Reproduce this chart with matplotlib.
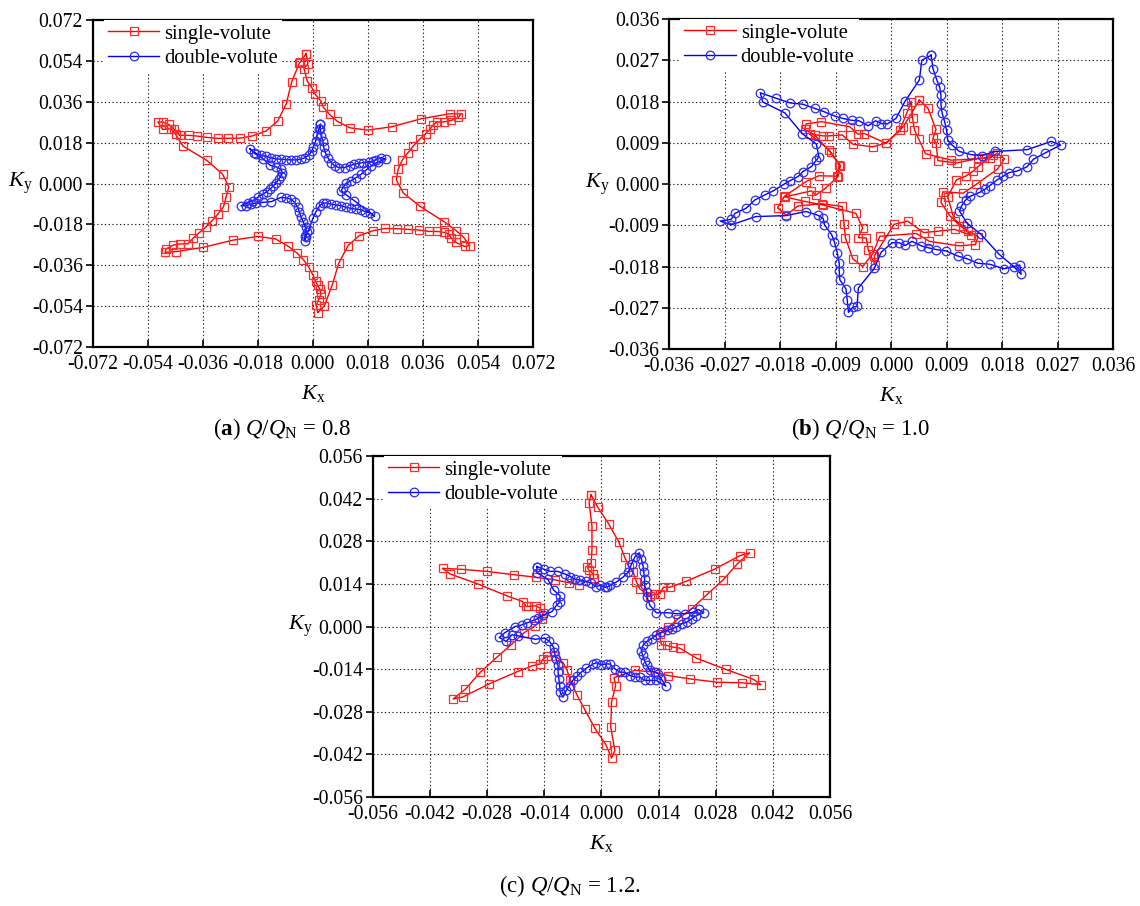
import numpy as np
import matplotlib
matplotlib.use("Agg")
import matplotlib.pyplot as plt

plt.rcParams["font.family"] = ["Liberation Serif", "DejaVu Serif"]
plt.rcParams["mathtext.fontset"] = "custom"
plt.rcParams["mathtext.rm"] = "Liberation Serif"
plt.rcParams["mathtext.it"] = "Liberation Serif:italic"
plt.rcParams["mathtext.bf"] = "Liberation Serif:bold"
plt.rcParams["axes.unicode_minus"] = False

W, H = 1140, 906

# ── (a) Q/QN = 0.8 : (Kx, Ky) ──────────────────────────────────────────────────
a_single = [
    (-0.0022, 0.0572), (-0.0016, 0.0528), (-0.0029, 0.0506), (-0.0018, 0.0450), (-0.0003, 0.0422),
    (0.0006, 0.0396), (0.0027, 0.0362), (0.0033, 0.0338), (0.0055, 0.0304), (0.0080, 0.0274),
    (0.0122, 0.0245), (0.0180, 0.0235), (0.0258, 0.0250), (0.0354, 0.0285), (0.0447, 0.0307),
    (0.0485, 0.0307), (0.0476, 0.0291), (0.0453, 0.0278), (0.0428, 0.0271), (0.0406, 0.0271),
    (0.0393, 0.0257), (0.0384, 0.0241), (0.0369, 0.0219), (0.0349, 0.0195), (0.0329, 0.0166),
    (0.0311, 0.0136), (0.0292, 0.0102), (0.0279, 0.0063), (0.0273, 0.0015), (0.0296, -0.0042),
    (0.0351, -0.0101), (0.0429, -0.0168), (0.0469, -0.0208), (0.0493, -0.0237), (0.0513, -0.0274),
    (0.0496, -0.0277), (0.0467, -0.0259), (0.0453, -0.0241), (0.0445, -0.0222), (0.0428, -0.0215),
    (0.0406, -0.0211), (0.0379, -0.0211), (0.0347, -0.0205), (0.0311, -0.0202), (0.0276, -0.0199),
    (0.0237, -0.0198), (0.0196, -0.0208), (0.0151, -0.0230), (0.0115, -0.0274), (0.0085, -0.0350),
    (0.0063, -0.0448), (0.0038, -0.0538), (0.0016, -0.0569), (0.0011, -0.0537), (0.0019, -0.0511),
    (0.0027, -0.0486), (0.0022, -0.0464), (0.0016, -0.0449), (0.0009, -0.0430), (0.0000, -0.0402),
    (-0.0013, -0.0369), (-0.0031, -0.0335), (-0.0052, -0.0306), (-0.0080, -0.0277), (-0.0122, -0.0244),
    (-0.0179, -0.0233), (-0.0260, -0.0249), (-0.0358, -0.0281), (-0.0447, -0.0300), (-0.0483, -0.0303),
    (-0.0480, -0.0288), (-0.0456, -0.0271), (-0.0433, -0.0266), (-0.0409, -0.0266), (-0.0391, -0.0240),
    (-0.0373, -0.0218), (-0.0351, -0.0193), (-0.0330, -0.0164), (-0.0311, -0.0136), (-0.0292, -0.0102),
    (-0.0284, -0.0061), (-0.0275, -0.0015), (-0.0295, 0.0041), (-0.0347, 0.0102), (-0.0425, 0.0165),
    (-0.0449, 0.0217), (-0.0464, 0.0241), (-0.0491, 0.0238), (-0.0507, 0.0271), (-0.0491, 0.0271),
    (-0.0471, 0.0260), (-0.0453, 0.0238), (-0.0436, 0.0212), (-0.0406, 0.0212), (-0.0379, 0.0209),
    (-0.0347, 0.0203), (-0.0311, 0.0199), (-0.0278, 0.0199), (-0.0238, 0.0200), (-0.0199, 0.0209),
    (-0.0153, 0.0231), (-0.0115, 0.0275), (-0.0087, 0.0351), (-0.0069, 0.0448), (-0.0044, 0.0531),
    (-0.0041, 0.0535), (-0.0022, 0.0572),
]
a_double = [
    (0.0025, 0.0260), (0.0024, 0.0240), (0.0027, 0.0209), (0.0033, 0.0187), (0.0035, 0.0162),
    (0.0041, 0.0136), (0.0049, 0.0114), (0.0060, 0.0092), (0.0071, 0.0078), (0.0085, 0.0070),
    (0.0104, 0.0070), (0.0120, 0.0078), (0.0136, 0.0085), (0.0150, 0.0089), (0.0164, 0.0092),
    (0.0185, 0.0094), (0.0197, 0.0100), (0.0207, 0.0104), (0.0224, 0.0114), (0.0238, 0.0107),
    (0.0213, 0.0095), (0.0191, 0.0078), (0.0175, 0.0060), (0.0158, 0.0041), (0.0142, 0.0026),
    (0.0125, 0.0012), (0.0109, 0.0001), (0.0098, -0.0018), (0.0093, -0.0032), (0.0109, -0.0050),
    (0.0136, -0.0076), (0.0202, -0.0145), (0.0188, -0.0130), (0.0172, -0.0124), (0.0158, -0.0116),
    (0.0142, -0.0113), (0.0125, -0.0110), (0.0109, -0.0105), (0.0093, -0.0098), (0.0076, -0.0095),
    (0.0060, -0.0091), (0.0044, -0.0086), (0.0033, -0.0086), (0.0022, -0.0098), (0.0009, -0.0127),
    (0.0000, -0.0154), (-0.0013, -0.0203), (-0.0027, -0.0230), (-0.0027, -0.0252), (-0.0022, -0.0237),
    (-0.0020, -0.0215), (-0.0024, -0.0193), (-0.0031, -0.0171), (-0.0038, -0.0149), (-0.0044, -0.0127),
    (-0.0049, -0.0105), (-0.0060, -0.0083), (-0.0071, -0.0069), (-0.0087, -0.0064), (-0.0104, -0.0061),
    (-0.0136, -0.0080), (-0.0164, -0.0083), (-0.0185, -0.0086), (-0.0202, -0.0091), (-0.0218, -0.0098),
    (-0.0235, -0.0098), (-0.0213, -0.0086), (-0.0196, -0.0076), (-0.0180, -0.0061), (-0.0164, -0.0047),
    (-0.0151, -0.0037), (-0.0140, -0.0025), (-0.0129, -0.0010), (-0.0120, 0.0004), (-0.0111, 0.0019),
    (-0.0104, 0.0034), (-0.0100, 0.0048), (-0.0104, 0.0063), (-0.0120, 0.0073), (-0.0139, 0.0080),
    (-0.0164, 0.0110), (-0.0191, 0.0133), (-0.0207, 0.0154), (-0.0185, 0.0132), (-0.0169, 0.0124),
    (-0.0153, 0.0119), (-0.0136, 0.0113), (-0.0120, 0.0108), (-0.0104, 0.0107), (-0.0087, 0.0105),
    (-0.0071, 0.0104), (-0.0055, 0.0104), (-0.0040, 0.0107), (-0.0027, 0.0113), (-0.0014, 0.0124),
    (-0.0004, 0.0142), (0.0002, 0.0162), (0.0009, 0.0187), (0.0013, 0.0212), (0.0019, 0.0238),
    (0.0025, 0.0260),
]

# ── (b) Q/QN = 1.0 ────────────────────────────────────────────────────────────
b_single = [
    (0.0046, 0.0183), (0.0060, 0.0165), (0.0073, 0.0119), (0.0068, 0.0100), (0.0073, 0.0090),
    (0.0076, 0.0051), (0.0107, 0.0046), (0.0141, 0.0056), (0.0160, 0.0056), (0.0172, 0.0067),
    (0.0184, 0.0055), (0.0173, 0.0033), (0.0138, -0.0001), (0.0117, -0.0020), (0.0084, -0.0017),
    (0.0081, -0.0040), (0.0095, -0.0069), (0.0117, -0.0092), (0.0125, -0.0103), (0.0141, -0.0115),
    (0.0137, -0.0132), (0.0111, -0.0135), (0.0062, -0.0125), (0.0041, -0.0108), (-0.0018, -0.0114),
    (-0.0030, -0.0153), (-0.0046, -0.0180), (-0.0062, -0.0163), (-0.0074, -0.0117), (-0.0076, -0.0088),
    (-0.0079, -0.0049), (-0.0112, -0.0043), (-0.0151, -0.0048), (-0.0170, -0.0068), (-0.0184, -0.0052),
    (-0.0173, -0.0027), (-0.0138, 0.0005), (-0.0117, 0.0018), (-0.0087, 0.0017), (-0.0084, 0.0042),
    (-0.0098, 0.0069), (-0.0124, 0.0107), (-0.0140, 0.0119), (-0.0138, 0.0131), (-0.0113, 0.0136),
    (-0.0067, 0.0125), (-0.0054, 0.0109), (-0.0043, 0.0110), (-0.0008, 0.0089), (0.0014, 0.0117),
    (0.0026, 0.0156), (0.0033, 0.0180),
    (0.0035, 0.0143), (0.0038, 0.0118), (0.0045, 0.0098), (0.0056, 0.0066), (0.0098, 0.0052),
    (0.0150, 0.0056), (0.0165, 0.0064), (0.0141, 0.0038), (0.0133, 0.0028), (0.0121, 0.0017),
    (0.0106, 0.0009), (0.0092, -0.0028), (0.0103, -0.0080), (0.0130, -0.0112), (0.0103, -0.0099),
    (0.0076, -0.0103), (0.0053, -0.0106), (0.0027, -0.0081), (0.0005, -0.0088), (-0.0027, -0.0157),
    (-0.0026, -0.0176), (-0.0037, -0.0144), (-0.0040, -0.0118), (-0.0053, -0.0117), (-0.0046, -0.0096),
    (-0.0057, -0.0064), (-0.0110, -0.0046), (-0.0140, -0.0038), (-0.0172, -0.0028), (-0.0129, -0.0015),
    (-0.0122, -0.0024), (-0.0106, -0.0009), (-0.0086, 0.0016), (-0.0082, 0.0040), (-0.0101, 0.0075),
    (-0.0132, 0.0109), (-0.0110, 0.0105), (-0.0101, 0.0105), (-0.0079, 0.0107), (-0.0062, 0.0087),
    (-0.0030, 0.0081), (-0.0008, 0.0089), (0.0020, 0.0125), (0.0046, 0.0183),
]
b_double = [
    (0.0065, 0.0281), (0.0068, 0.0252), (0.0074, 0.0228), (0.0079, 0.0211), (0.0081, 0.0194),
    (0.0081, 0.0174), (0.0083, 0.0154), (0.0087, 0.0136), (0.0090, 0.0118), (0.0092, 0.0096),
    (0.0099, 0.0085), (0.0111, 0.0071), (0.0130, 0.0064), (0.0148, 0.0062), (0.0169, 0.0071),
    (0.0221, 0.0075), (0.0260, 0.0093), (0.0275, 0.0085), (0.0249, 0.0067), (0.0231, 0.0054),
    (0.0220, 0.0037), (0.0204, 0.0028), (0.0192, 0.0025), (0.0182, 0.0017), (0.0172, 0.0009),
    (0.0160, -0.0004), (0.0153, -0.0011), (0.0144, -0.0018), (0.0128, -0.0027), (0.0121, -0.0035),
    (0.0114, -0.0049), (0.0111, -0.0059), (0.0123, -0.0085), (0.0146, -0.0110), (0.0175, -0.0153),
    (0.0199, -0.0180), (0.0211, -0.0197), (0.0209, -0.0177), (0.0183, -0.0185), (0.0160, -0.0175),
    (0.0141, -0.0173), (0.0123, -0.0163), (0.0108, -0.0157), (0.0089, -0.0146), (0.0073, -0.0143),
    (0.0060, -0.0139), (0.0049, -0.0135), (0.0034, -0.0125), (0.0023, -0.0134), (0.0013, -0.0128),
    (0.0002, -0.0128), (-0.0016, -0.0149), (-0.0027, -0.0184), (-0.0053, -0.0227), (-0.0055, -0.0267),
    (-0.0062, -0.0269), (-0.0069, -0.0280), (-0.0071, -0.0253), (-0.0073, -0.0229), (-0.0083, -0.0209),
    (-0.0084, -0.0189), (-0.0084, -0.0173), (-0.0087, -0.0151), (-0.0092, -0.0126), (-0.0096, -0.0111),
    (-0.0108, -0.0089), (-0.0110, -0.0075), (-0.0119, -0.0068), (-0.0138, -0.0060), (-0.0170, -0.0069),
    (-0.0219, -0.0071), (-0.0259, -0.0089), (-0.0277, -0.0081), (-0.0259, -0.0077), (-0.0253, -0.0064),
    (-0.0235, -0.0053), (-0.0221, -0.0035), (-0.0205, -0.0024), (-0.0191, -0.0015), (-0.0173, 0.0000),
    (-0.0164, 0.0007), (-0.0151, 0.0016), (-0.0143, 0.0027), (-0.0129, 0.0038), (-0.0121, 0.0052),
    (-0.0117, 0.0060), (-0.0121, 0.0087), (-0.0144, 0.0110), (-0.0172, 0.0155), (-0.0208, 0.0179),
    (-0.0212, 0.0199), (-0.0186, 0.0187), (-0.0164, 0.0177), (-0.0143, 0.0174), (-0.0124, 0.0165),
    (-0.0109, 0.0158), (-0.0091, 0.0148), (-0.0078, 0.0143), (-0.0064, 0.0139), (-0.0052, 0.0138),
    (-0.0037, 0.0127), (-0.0025, 0.0138), (-0.0016, 0.0132), (-0.0006, 0.0131), (0.0008, 0.0143),
    (0.0023, 0.0181), (0.0046, 0.0227), (0.0050, 0.0270), (0.0065, 0.0281),
]

# ── (c) Q/QN = 1.2 ────────────────────────────────────────────────────────────
c_single = [
    (-0.0025, 0.0432), (-0.0009, 0.0392), (0.0018, 0.0337), (0.0043, 0.0277), (0.0057, 0.0228),
    (0.0068, 0.0195), (0.0078, 0.0178), (0.0086, 0.0146), (0.0094, 0.0124), (0.0119, 0.0100),
    (0.0130, 0.0106), (0.0143, 0.0107), (0.0152, 0.0129), (0.0168, 0.0129), (0.0207, 0.0148),
    (0.0278, 0.0189), (0.0340, 0.0233), (0.0363, 0.0242), (0.0333, 0.0206), (0.0299, 0.0154),
    (0.0258, 0.0104), (0.0221, 0.0058), (0.0188, 0.0025), (0.0164, -0.0002), (0.0143, -0.0024),
    (0.0147, -0.0060), (0.0160, -0.0062), (0.0176, -0.0068), (0.0192, -0.0071), (0.0233, -0.0104),
    (0.0305, -0.0141), (0.0373, -0.0174), (0.0391, -0.0191), (0.0344, -0.0185), (0.0284, -0.0183),
    (0.0217, -0.0172), (0.0164, -0.0161), (0.0131, -0.0150), (0.0082, -0.0144), (0.0031, -0.0168),
    (0.0035, -0.0194), (0.0025, -0.0248), (0.0023, -0.0330), (0.0033, -0.0407), (0.0025, -0.0432),
    (0.0011, -0.0388), (-0.0016, -0.0334), (-0.0041, -0.0272), (-0.0060, -0.0224), (-0.0076, -0.0175),
    (-0.0084, -0.0144), (-0.0093, -0.0120), (-0.0113, -0.0096), (-0.0133, -0.0098), (-0.0143, -0.0107),
    (-0.0150, -0.0123), (-0.0169, -0.0129), (-0.0205, -0.0148), (-0.0274, -0.0188), (-0.0340, -0.0232),
    (-0.0363, -0.0238), (-0.0333, -0.0206), (-0.0297, -0.0151), (-0.0256, -0.0101), (-0.0221, -0.0060),
    (-0.0189, -0.0020), (-0.0162, 0.0002), (-0.0146, 0.0024), (-0.0143, 0.0044), (-0.0150, 0.0060),
    (-0.0161, 0.0068), (-0.0179, 0.0066), (-0.0184, 0.0066), (-0.0193, 0.0082), (-0.0232, 0.0101),
    (-0.0303, 0.0140), (-0.0371, 0.0173), (-0.0389, 0.0191), (-0.0344, 0.0188), (-0.0281, 0.0181),
    (-0.0214, 0.0170), (-0.0161, 0.0162), (-0.0113, 0.0153), (-0.0080, 0.0144), (-0.0054, 0.0137),
    (-0.0019, 0.0159), (-0.0020, 0.0173), (-0.0031, 0.0186), (-0.0035, 0.0197), (-0.0025, 0.0208),
    (-0.0023, 0.0252), (-0.0023, 0.0330), (-0.0030, 0.0407), (-0.0025, 0.0432),
]
c_double = [
    (-0.0158, 0.0197), (-0.0140, 0.0188), (-0.0125, 0.0181), (-0.0107, 0.0181), (-0.0090, 0.0173),
    (-0.0076, 0.0164), (-0.0064, 0.0155), (-0.0052, 0.0153), (-0.0037, 0.0148), (-0.0025, 0.0142),
    (-0.0012, 0.0131), (-0.0004, 0.0135), (0.0008, 0.0129), (0.0014, 0.0129), (0.0020, 0.0135),
    (0.0037, 0.0146), (0.0053, 0.0162), (0.0066, 0.0178), (0.0074, 0.0206), (0.0082, 0.0228),
    (0.0093, 0.0242), (0.0098, 0.0222), (0.0102, 0.0200), (0.0104, 0.0178), (0.0106, 0.0156),
    (0.0106, 0.0135), (0.0111, 0.0113), (0.0112, 0.0096), (0.0119, 0.0069), (0.0135, 0.0045),
    (0.0164, 0.0045), (0.0184, 0.0042), (0.0205, 0.0042), (0.0225, 0.0047), (0.0238, 0.0056),
    (0.0251, 0.0045), (0.0233, 0.0036), (0.0221, 0.0025), (0.0209, 0.0014), (0.0197, 0.0009),
    (0.0184, -0.0002), (0.0172, -0.0008), (0.0160, -0.0013), (0.0147, -0.0019), (0.0135, -0.0027),
    (0.0123, -0.0040), (0.0111, -0.0049), (0.0102, -0.0062), (0.0098, -0.0079), (0.0101, -0.0095),
    (0.0106, -0.0112), (0.0111, -0.0128), (0.0119, -0.0144), (0.0131, -0.0150), (0.0139, -0.0155),
    (0.0147, -0.0172), (0.0158, -0.0196), (0.0135, -0.0177), (0.0119, -0.0177), (0.0106, -0.0177),
    (0.0094, -0.0166), (0.0082, -0.0166), (0.0070, -0.0161), (0.0057, -0.0150), (0.0045, -0.0150),
    (0.0033, -0.0139), (0.0020, -0.0123), (0.0011, -0.0123), (0.0000, -0.0126), (-0.0012, -0.0119),
    (-0.0020, -0.0123), (-0.0037, -0.0137), (-0.0049, -0.0150), (-0.0060, -0.0164), (-0.0070, -0.0177),
    (-0.0078, -0.0194), (-0.0086, -0.0210), (-0.0094, -0.0232), (-0.0101, -0.0216), (-0.0102, -0.0194),
    (-0.0104, -0.0172), (-0.0106, -0.0150), (-0.0106, -0.0128), (-0.0111, -0.0106), (-0.0115, -0.0084),
    (-0.0117, -0.0068), (-0.0127, -0.0049), (-0.0139, -0.0038), (-0.0162, -0.0042), (-0.0203, -0.0031),
    (-0.0219, -0.0027), (-0.0233, -0.0049), (-0.0250, -0.0036), (-0.0236, -0.0020), (-0.0211, 0.0000),
    (-0.0195, 0.0005), (-0.0183, 0.0011), (-0.0166, 0.0020), (-0.0154, 0.0027), (-0.0142, 0.0038),
    (-0.0121, 0.0049), (-0.0109, 0.0071), (-0.0102, 0.0079), (-0.0101, 0.0101), (-0.0117, 0.0120),
    (-0.0131, 0.0155), (-0.0158, 0.0177), (-0.0158, 0.0197),
]

LIMITES = [0.072, 0.036, 0.056]
CAPTIONS = [r"($\mathbf{a}$) $Q/Q_{\mathrm{N}}$ = 0.8",
            r"($\mathbf{b}$) $Q/Q_{\mathrm{N}}$ = 1.0",
            r"(c) $Q/Q_{\mathrm{N}}$ = 1.2."]


def px_rect(x0, y0, x1, y1):
    return [x0 / W, 1 - y1 / H, (x1 - x0) / W, (y1 - y0) / H]


def dibujar(ax, lim, single, double, w_px, h_px):
    single = np.array(single)
    double = np.array(double)
    ax.plot(single[:, 0], single[:, 1], color="#ff0000", lw=1.0, marker="s", ms=6.2,
            mfc="none", mec="#ff2a2a", mew=0.9, label="single-volute")
    ax.plot(double[:, 0], double[:, 1], color="#0000ff", lw=1.0, marker="o", ms=6.2,
            mfc="none", mec="#2a2aff", mew=0.9, label="double-volute")

    ticks = np.linspace(-lim, lim, 9)
    etiquetas = [f"{t:.3f}" if abs(t) > 1e-9 else "0.000" for t in ticks]
    ax.set_xlim(-lim, lim)
    ax.set_ylim(-lim, lim)
    ax.set_xticks(ticks)
    ax.set_yticks(ticks)
    ax.set_xticklabels(etiquetas)
    ax.set_yticklabels(etiquetas)
    ax.tick_params(axis="x", direction="in", length=5, width=1.2, labelsize=14.2, pad=6)
    ax.tick_params(axis="y", direction="out", length=5, width=1.2, labelsize=14.2, pad=2)
    for s in ax.spines.values():
        s.set_linewidth(1.6)

    ax.set_axisbelow(True)
    ax.grid(True, color="#222222", linewidth=0.8, linestyle=(0, (1.2, 2.2)))

    ax.set_xlabel(r"$K_{\mathrm{x}}$", fontsize=16)
    ax.xaxis.set_label_coords(0.5, -46 / h_px)
    ax.xaxis.label.set_va("center")
    ax.set_ylabel(r"$K_{\mathrm{y}}$", fontsize=16, rotation=0, ha="center", va="center")
    ax.yaxis.set_label_coords(-72 / w_px, 0.5)

    leg = ax.legend(loc="upper left", bbox_to_anchor=(11 / w_px, 1.0), borderaxespad=0,
                    frameon=True, fancybox=False, facecolor="white", edgecolor="none",
                    framealpha=1, borderpad=0.2, handlelength=2.5, handletextpad=0.25,
                    labelspacing=0.25, fontsize=14.8)
    return leg


fig = plt.figure(figsize=(W / 100, H / 100), dpi=100)

cajas = [(92.7, 20, 533, 347), (669, 19, 1113, 349), (372.7, 456, 830, 797)]
datos = [(a_single, a_double), (b_single, b_double), (c_single, c_double)]
pos_caption = [(282, 429), (861, 429), (570, 886)]

for caja, lim, (sv, dv), cap, (cx, cy) in zip(cajas, LIMITES, datos, CAPTIONS, pos_caption):
    x0, y0, x1, y1 = caja
    ax = fig.add_axes(px_rect(x0, y0, x1, y1))
    dibujar(ax, lim, sv, dv, x1 - x0, y1 - y0)
    fig.text(cx / W, 1 - cy / H, cap, fontsize=16.5, ha="center", va="center")

fig.savefig("out.png", dpi=100)
